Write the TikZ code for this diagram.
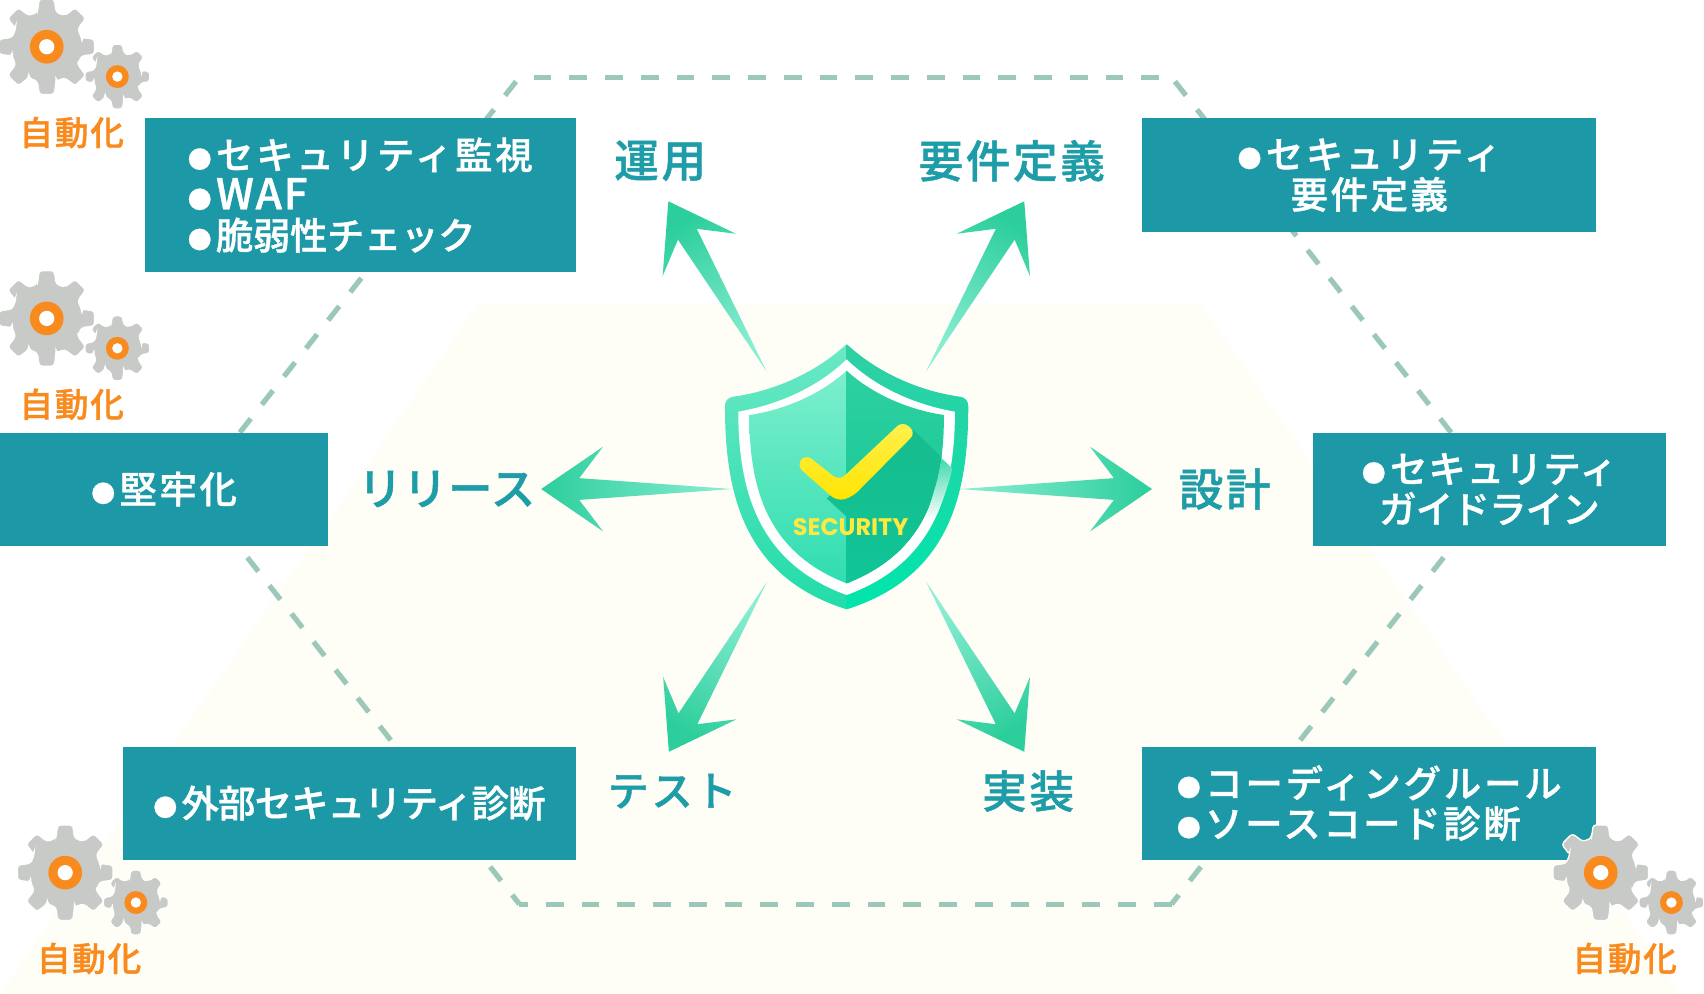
\documentclass[tikz,border=0pt]{standalone}
\usepackage{fontspec}
\setmainfont{Noto Sans CJK JP}
\newfontfamily\midfont{Noto Sans CJK JP Medium}[FakeBold=1]
\newfontfamily\secfont{Poppins}
\definecolor{boxteal}{HTML}{1C98A6}
\definecolor{labelteal}{HTML}{1E9DA8}
\definecolor{gearorange}{HTML}{F98B1E}
\definecolor{geargrey}{HTML}{C7CAC7}
\definecolor{dashgreen}{HTML}{9CC8BA}
\definecolor{palebg}{HTML}{FEFEF6}
\definecolor{arrowhead}{HTML}{2CCE9C}
\definecolor{arrowtail}{HTML}{8CEED3}
\definecolor{ringLtop}{HTML}{6BE8C6}
\definecolor{ringLbot}{HTML}{22DCA8}
\definecolor{ringRtop}{HTML}{30CFA4}
\definecolor{ringRbot}{HTML}{00E5AC}
\definecolor{innerLtop}{HTML}{7DEFCD}
\definecolor{innerLbot}{HTML}{30DDB0}
\definecolor{innerRtop}{HTML}{2ED0A0}
\definecolor{innerRbot}{HTML}{10C596}
\definecolor{tickshadow}{HTML}{16BC8E}
\definecolor{bandshadow}{HTML}{40D9AE}
\definecolor{ticktop}{HTML}{FFF050}
\definecolor{tickbot}{HTML}{FFE400}
\definecolor{sectext}{HTML}{FFE840}
\newcommand{\bul}{{\fontsize{11}{11}\selectfont\raisebox{0.4pt}{●}\hspace{2pt}}}
\newcommand{\ls}[2]{{\addfontfeature{LetterSpace=#1}#2}}
\newcommand{\arrowshape}[3]{% tail coordinate, canvas angle, length
  \pgfmathsetmacro{\angshade}{#2-90}
  \shade[top color=arrowhead,bottom color=arrowtail,shading angle=\angshade,shift={(#1)},rotate=#2]
    (0,0) -- (#3-35,10) -- (#3-57,39) -- (#3,0) -- (#3-57,-39) -- (#3-35,-10) -- cycle;
}
\tikzset{
  boxnode/.style={fill=boxteal,text=white,inner sep=0pt,outer sep=0pt,anchor=north west,
    font=\midfont\fontsize{17.2}{18.5}\selectfont},
  stagelabel/.style={text=labelteal,inner sep=0pt,
    font=\midfont\fontsize{20.5}{22}\selectfont\addfontfeature{LetterSpace=6}},
  autolabel/.style={text=gearorange,inner sep=0pt,
    font=\midfont\fontsize{15.5}{17}\selectfont\addfontfeature{LetterSpace=5}},
  hexedge/.style={dashgreen,line width=2.4pt,dash pattern=on 8.2pt off 8.25pt},
  gearpic/.pic={
    \fill[geargrey,draw=white,line width=0.6pt,rounded corners=1.4pt]
      (-22.5+14:33) \foreach \a in {0,45,...,315} {
        -- (\a-15:33) -- (\a-9:44.5) -- (\a+9:44.5) -- (\a+15:33) -- (\a+30:33)
      } -- cycle;
    \fill[gearorange] (0,0) circle (15.5);
    \fill[white] (0,0) circle (7);
  },
  autogroup/.pic={
    \pic at (43,43) {gearpic};
    \pic[scale=0.68] at (108,70.5) {gearpic};
  }
}
\begin{document}
\begin{tikzpicture}[x=0.5pt,y=-0.5pt]
\useasboundingbox (0,0) rectangle (1568,914.66);
% pale hexagon backdrop
\fill[palebg] (440,280) -- (1105,280) -- (1546,914.66) -- (0,914.66) -- cycle;
% dashed hexagon
\coordinate (hl) at (179,451);
\coordinate (htl) at (478,71);
\coordinate (htr) at (1078,71);
\coordinate (hr) at (1377,451);
\coordinate (hbr) at (1078,832);
\coordinate (hbl) at (478,832);
\draw[hexedge,dash phase=15.7pt] (hl) -- (htl);
\draw[hexedge,dash phase=9.95pt] (htl) -- (htr);
\draw[hexedge,dash phase=15.7pt] (hr) -- (htr);
\draw[hexedge,dash phase=10pt] (hr) -- (hbr);
\draw[hexedge,dash phase=0pt] (hbr) -- (hbl);
\draw[hexedge,dash phase=10pt] (hl) -- (hbl);
% boxes
\node[boxnode,minimum width=198.5pt,minimum height=70.5pt,align=left] (b1) at (133,109)
  {\ls{7.6}{\bul セキュリティ監視}\\\ls{4}{\bul {\fontsize{19.5}{18.5}\selectfont WAF}}\\\ls{-1}{\bul 脆弱性チェック}};
\node[boxnode,minimum width=209pt,minimum height=52.2pt,align=center] (b2) at (1051,109)
  {\ls{7}{\bul セキュリティ}\\\ls{7}{要件定義}};
\node[boxnode,minimum width=151pt,minimum height=52pt,align=center] (b3) at (0,398)
  {\ls{7}{\bul 堅牢化}};
\node[boxnode,minimum width=162.5pt,minimum height=52pt,align=center] (b4) at (1208,398)
  {\ls{2.6}{\bul セキュリティ}\\\ls{-2}{ガイドライン}};
\node[boxnode,minimum width=208.5pt,minimum height=52pt,align=center] (b5) at (113,687)
  {\ls{-2.3}{\bul 外部セキュリティ診断}};
\node[boxnode,minimum width=209pt,minimum height=52pt,align=left] (b6) at (1051,687)
  {\ls{7.6}{\bul コーディングルール}\\\ls{7}{\bul ソースコード診断}};
% arrows
\coordinate (t1) at (705.5,342);
\coordinate (t2) at (852,342);
\coordinate (t3) at (883,450);
\coordinate (t4) at (852,535);
\coordinate (t5) at (706,535);
\coordinate (t6) at (674,450);
\arrowshape{t1}{120}{181}
\arrowshape{t2}{60}{181}
\arrowshape{t3}{0}{177}
\arrowshape{t4}{300}{181}
\arrowshape{t5}{240}{181}
\arrowshape{t6}{180}{176}
% stage labels
\node[stagelabel] (s1) at (607.5,148) {運用};
\node[stagelabel] (s2) at (931,148) {要件定義};
\node[stagelabel] (s3) at (1127,450) {設計};
\node[stagelabel] (s4) at (946,728) {実装};
\node[stagelabel,font=\midfont\fontsize{19}{22}\selectfont\addfontfeature{LetterSpace=6}] (s5) at (618.5,728) {テスト};
\node[stagelabel,font=\midfont\fontsize{20.5}{22}\selectfont\addfontfeature{LetterSpace=1}] (s6) at (411,450) {リリース};
% shield
\begin{scope}[shift={(625.7,294.5)},scale=0.3067]
  \shade[top color=ringLtop,bottom color=ringLbot]
    (500,72) .. controls (400,165) and (270,215) .. (160,230)
    .. controls (145,232) and (135,242) .. (135,258)
    .. controls (135,520) and (190,770) .. (500,868) -- cycle;
  \shade[top color=ringRtop,bottom color=ringRbot]
    (500,72) .. controls (600,165) and (730,215) .. (840,230)
    .. controls (855,232) and (865,242) .. (865,258)
    .. controls (865,520) and (810,770) .. (500,868) -- cycle;
  \fill[white]
    (500,118) .. controls (410,205) and (290,255) .. (175,275)
    .. controls (175,520) and (240,730) .. (500,825)
    .. controls (760,730) and (825,520) .. (825,275)
    .. controls (710,255) and (590,205) .. (500,118) -- cycle;
  \shade[top color=innerLtop,bottom color=innerLbot]
    (500,152) .. controls (420,225) and (310,270) .. (208,285)
    .. controls (208,520) and (270,700) .. (500,790) -- cycle;
  \shade[top color=innerRtop,bottom color=innerRbot]
    (500,152) .. controls (580,225) and (690,270) .. (792,285)
    .. controls (792,520) and (730,700) .. (500,790) -- cycle;
  % shadow of the tick
  \begin{scope}
    \clip (500,152) .. controls (580,225) and (690,270) .. (792,285)
      .. controls (792,520) and (730,700) .. (500,790)
      .. controls (270,700) and (208,520) .. (208,285)
      .. controls (310,270) and (420,225) .. (500,152) -- cycle;
    \shade[top color=tickshadow,bottom color=innerRbot]
      (700,330) -- (830,455) -- (780,640) -- (620,790) -- (500,790) -- (500,590) -- (440,535) -- cycle;
  \end{scope}
  % shadow over the white band
  \shade[top color=bandshadow,bottom color=white]
    (785,415) -- (817,445) .. controls (812,470) and (800,510) .. (785,547)
    -- (760,600) -- (740,585) -- (755,538) -- (772,480) -- cycle;
  % tick
  \shade[top color=ticktop,bottom color=tickbot,rounded corners=3.5pt]
    (376,402) -- (478,482) -- (668,303) -- (708,338) -- (518,530) -- (472,544) -- (350,437) -- cycle;
  \node[inner sep=0pt,text=sectext,font=\secfont\fontsize{11}{12}\selectfont\bfseries] (sec) at (512,620) {SECURITY};
\end{scope}
% gears
\pic at (0,0) {autogroup};
\node[autolabel] (a1) at (66,122) {自動化};
\pic at (0,250) {autogroup};
\node[autolabel] (a2) at (66,372) {自動化};
\pic at (17,760) {autogroup};
\node[autolabel] (a3) at (82,882) {自動化};
\pic at (1430,760) {autogroup};
\node[autolabel] (a4) at (1495,882) {自動化};
\end{tikzpicture}
\end{document}
